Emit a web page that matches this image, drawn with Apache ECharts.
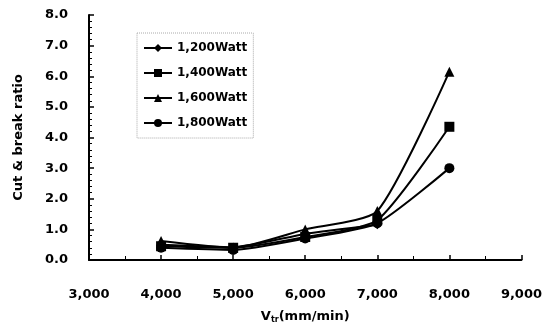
<!DOCTYPE html>
<html>
<head>
<meta charset="utf-8">
<script src="https://cdn.jsdelivr.net/npm/echarts@6/dist/echarts.min.js"></script>
<style>
  html, body { margin: 0; padding: 0; background: #fff; }
  #chart { width: 545px; height: 329px; }
</style>
</head>
<body>
<div id="chart"></div>
<script>
// feed speed (mm/min)
var speeds = [4000, 5000, 6000, 7000, 8000];

var watt1200 = [0.5, 0.42, 0.85, 1.15, null];
var watt1400 = [0.45, 0.4, 0.75, 1.3, 4.35];
var watt1600 = [0.62, 0.4, 1.0, 1.6, 6.15];
var watt1800 = [0.4, 0.33, 0.7, 1.2, 3.0];

var seriesNames = ['1,200Watt', '1,400Watt', '1,600Watt', '1,800Watt'];
var seriesSymbols = ['diamond', 'rect', 'triangle', 'circle'];

var font = 'DejaVu Sans';

function pairs(vals) {
    return speeds.map(function (s, i) { return [s, vals[i]]; });
}

function make_series(name, vals, symbol) {
    return {
        name: name,
        type: 'line',
        data: pairs(vals),
        smooth: 0.2,
        symbol: symbol,
        symbolSize: symbol == 'diamond' ? 9 : 10,
        connectNulls: false,
        lineStyle: { color: '#000', width: 2 },
        itemStyle: { color: '#000' }
    };
}

var chart = echarts.init(document.getElementById('chart'));
var option = {
    animation: false,
    backgroundColor: '#fff',
    grid: { left: 89, right: 23, top: 15, bottom: 68 },
    legend: {
        orient: 'vertical',
        left: 137,
        top: 33,
        itemGap: 13,
        itemWidth: 28,
        itemHeight: 10,
        padding: [9, 6, 9, 6],
        borderColor: '#aaa',
        borderWidth: 1,
        borderType: 'dotted',
        data: seriesNames,
        textStyle: { color: '#000', fontFamily: font, fontWeight: 'bold', fontSize: 12 }
    },
    xAxis: {
        type: 'value',
        min: 3000,
        max: 9000,
        interval: 1000,
        name: '{v|V}{s|tr}{v|(mm/min)}',
        nameLocation: 'middle',
        nameGap: 50,
        nameTextStyle: {
            rich: {
                v: { fontFamily: font, fontWeight: 'bold', fontSize: 13, color: '#000' },
                s: { fontFamily: font, fontWeight: 'bold', fontSize: 8, color: '#000', verticalAlign: 'bottom', padding: [6, 0, 0, 0] }
            }
        },
        axisLine: { lineStyle: { color: '#000', width: 2 } },
        axisTick: { inside: true, length: 5, lineStyle: { color: '#000', width: 1.5 } },
        minorTick: { show: true, splitNumber: 2, length: 4, lineStyle: { color: '#000' } },
        splitLine: { show: false },
        axisLabel: {
            margin: 28,
            color: '#000',
            fontFamily: font,
            fontWeight: 'bold',
            fontSize: 13,
            formatter: function (v) { return v.toLocaleString('en-US'); }
        }
    },
    yAxis: {
        type: 'value',
        min: 0,
        max: 8,
        interval: 1,
        name: 'Cut & break ratio',
        nameLocation: 'middle',
        nameGap: 64,
        nameRotate: 90,
        nameTextStyle: { color: '#000', fontFamily: font, fontWeight: 'bold', fontSize: 13 },
        axisLine: { show: true, lineStyle: { color: '#000', width: 2 } },
        axisTick: { inside: true, length: 5, lineStyle: { color: '#000', width: 1.5 } },
        minorTick: { show: true, splitNumber: 5, length: 3, lineStyle: { color: '#000' } },
        splitLine: { show: false },
        axisLabel: {
            margin: 21,
            color: '#000',
            fontFamily: font,
            fontWeight: 'bold',
            fontSize: 13,
            formatter: function (v) { return v.toFixed(1); }
        }
    },
    series: [
        make_series(seriesNames[0], watt1200, seriesSymbols[0]),
        make_series(seriesNames[1], watt1400, seriesSymbols[1]),
        make_series(seriesNames[2], watt1600, seriesSymbols[2]),
        make_series(seriesNames[3], watt1800, seriesSymbols[3])
    ]
};
chart.setOption(option);
</script>
</body>
</html>
